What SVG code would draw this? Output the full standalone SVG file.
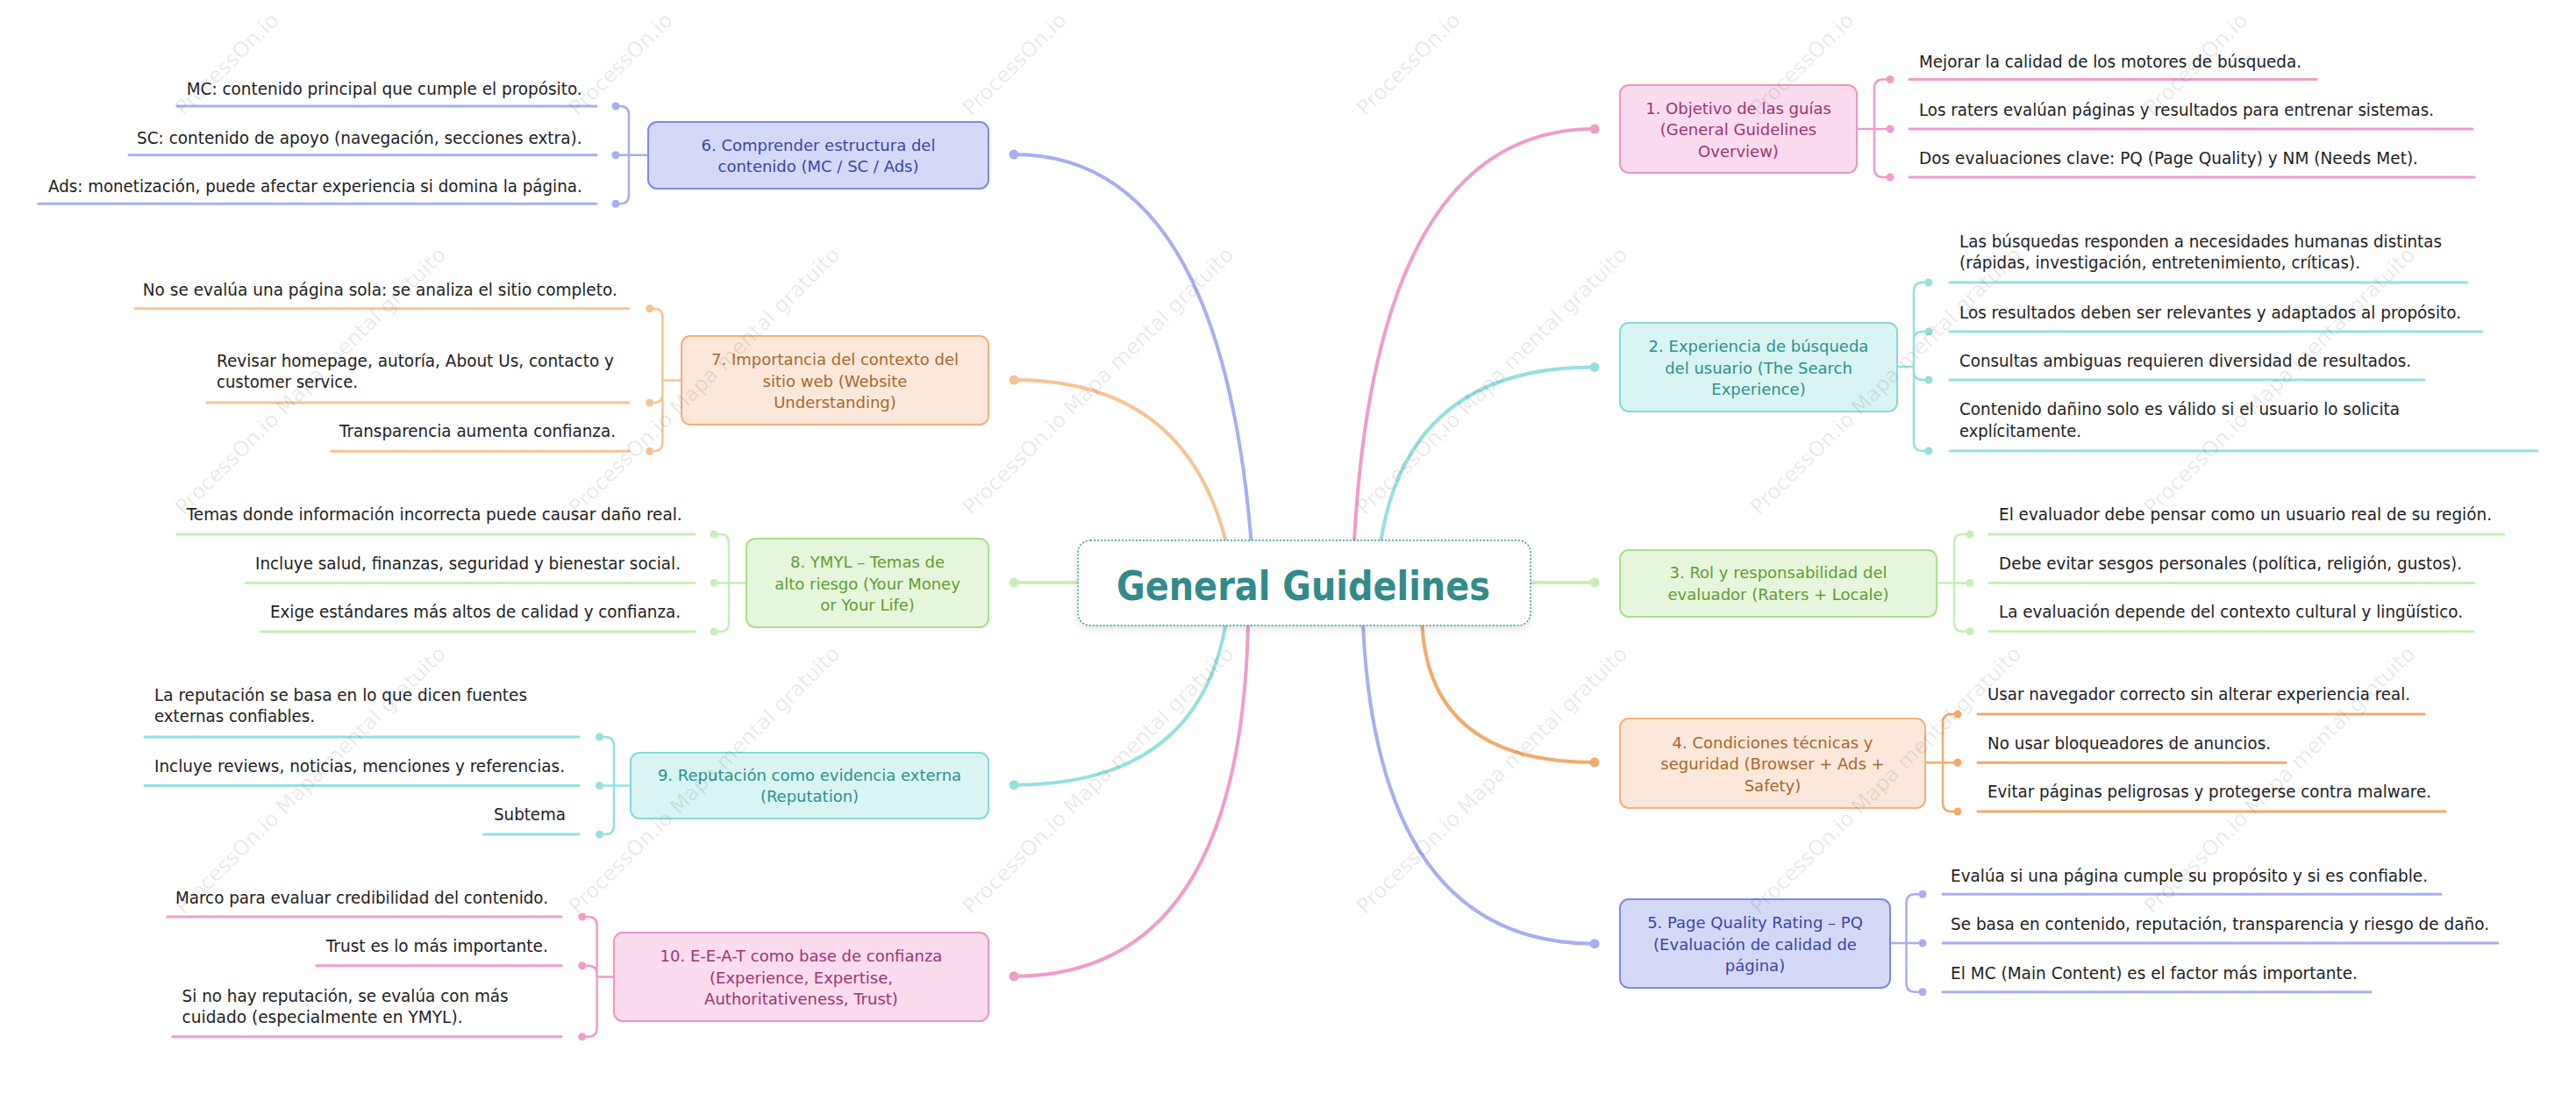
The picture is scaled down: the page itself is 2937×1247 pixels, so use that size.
<svg xmlns="http://www.w3.org/2000/svg" width="2937" height="1247" viewBox="0 0 2937 1247">
<defs>
<filter id="sh" x="-10%" y="-20%" width="120%" height="150%"><feDropShadow dx="0" dy="3" stdDeviation="4" flood-color="#000" flood-opacity="0.12"/></filter>
</defs>
<style>
text{font-family:"DejaVu Sans","Liberation Sans",sans-serif}
.wm{font-size:24px;fill:#000;fill-opacity:0.09}
.c{font-size:20px;fill:#1e1e1e}
.nt{font-size:18px;text-anchor:middle}
.curve{fill:none;stroke-width:4;stroke-linecap:round}
.br{fill:none;stroke-width:2.5;stroke-linecap:round}
.ul{fill:none;stroke-width:3;stroke-linecap:round}
.node{stroke-width:2}
.pk{stroke:#F09CCB}.pkd{fill:#F09CCB}
.cy{stroke:#95E0DF}.cyd{fill:#95E0DF}
.gr{stroke:#C8EEB5}.grd{fill:#C8EEB5}
.or{stroke:#F2AB6A}.ord{fill:#F2AB6A}
.ol{stroke:#F6C493}.old{fill:#F6C493}
.bl{stroke:#A8AEF1}.bld{fill:#A8AEF1}
.npk{fill:#FADCEE;stroke:#EE94C5}.tpk{fill:#A13370}
.ncy{fill:#DAF4F4;stroke:#85D9D8}.tcy{fill:#2E8F8E}
.ngr{fill:#E6F6DC;stroke:#A8E08C}.tgr{fill:#5E9D33}
.nor{fill:#FCE8DA;stroke:#F2B07A}.tor{fill:#A9672C}
.nbl{fill:#D5D9F8;stroke:#7E88E8}.tbl{fill:#3A46A6}
</style>
<rect width="2937" height="1247" fill="#fff"/>

<g id="connectors">
<path class="curve pk" d="M1544,664 L1544,616 Q1570,147 1818,147"/>
<path class="curve cy" d="M1574.5,664 L1574.5,616 Q1606,418.4 1818,418.4"/>
<path class="curve gr" d="M1745,664 L1818,664"/>
<path class="curve or" d="M1621.4,664 L1621.4,712 Q1630,869 1818,869"/>
<path class="curve bl" d="M1554,664 L1554,712 Q1571,1075.7 1818,1075.7"/>
<path class="curve bl" d="M1426.5,664 L1426.5,616 Q1390,176 1156,176"/>
<path class="curve ol" d="M1397.4,664 L1397.4,616 Q1350,433 1156,433"/>
<path class="curve gr" d="M1229,664 L1156,664"/>
<path class="curve cy" d="M1397.4,664 L1397.4,712 Q1365,894.7 1156,894.7"/>
<path class="curve pk" d="M1423,664 L1423,712 Q1414,1112.8 1156,1112.8"/>
<circle class="pkd" cx="1818" cy="147" r="5.5"/>
<circle class="cyd" cx="1818" cy="418.4" r="5.5"/>
<circle class="grd" cx="1818" cy="664" r="5.5"/>
<circle class="ord" cx="1818" cy="869" r="5.5"/>
<circle class="bld" cx="1818" cy="1075.7" r="5.5"/>
<circle class="bld" cx="1156" cy="176" r="5.5"/>
<circle class="old" cx="1156" cy="433" r="5.5"/>
<circle class="grd" cx="1156" cy="664" r="5.5"/>
<circle class="cyd" cx="1156" cy="894.7" r="5.5"/>
<circle class="pkd" cx="1156" cy="1112.8" r="5.5"/>

<path class="br pk" d="M2117,147 H2155 M2137,147 V100.5 Q2137,90.5 2147,90.5 H2155 M2137,147 V192 Q2137,202 2147,202 H2155"/>
<circle class="pkd" cx="2155" cy="90.5" r="4.5"/><circle class="pkd" cx="2155" cy="147" r="4.5"/><circle class="pkd" cx="2155" cy="202" r="4.5"/>
<path class="br cy" d="M2163,418 H2182 M2182,418 V332 Q2182,322 2192,322 H2199 M2182,418 V388 Q2182,378 2192,378 H2199 M2182,418 V423 Q2182,433 2192,433 H2199 M2182,418 V504 Q2182,514 2192,514 H2199"/>
<circle class="cyd" cx="2199" cy="322" r="4.5"/><circle class="cyd" cx="2199" cy="378" r="4.5"/><circle class="cyd" cx="2199" cy="433" r="4.5"/><circle class="cyd" cx="2199" cy="514" r="4.5"/>
<path class="br gr" d="M2208,664.5 H2246 M2228,664.5 V619 Q2228,609 2238,609 H2246 M2228,664.5 V709.7 Q2228,719.7 2238,719.7 H2246"/>
<circle class="grd" cx="2246" cy="609" r="4.5"/><circle class="grd" cx="2246" cy="664.5" r="4.5"/><circle class="grd" cx="2246" cy="719.7" r="4.5"/>
<path class="br or" d="M2195,869.3 H2232 M2215,869.3 V824 Q2215,814 2225,814 H2232 M2215,869.3 V915 Q2215,925 2225,925 H2232"/>
<circle class="ord" cx="2232" cy="814" r="4.5"/><circle class="ord" cx="2232" cy="869.3" r="4.5"/><circle class="ord" cx="2232" cy="925" r="4.5"/>
<path class="br bl" d="M2155,1075 H2192 M2173.5,1075 V1029.3 Q2173.5,1019.3 2183.5,1019.3 H2192 M2173.5,1075 V1120.7 Q2173.5,1130.7 2183.5,1130.7 H2192"/>
<circle class="bld" cx="2192" cy="1019.3" r="4.5"/><circle class="bld" cx="2192" cy="1075" r="4.5"/><circle class="bld" cx="2192" cy="1130.7" r="4.5"/>

<path class="br bl" d="M739,176.7 H702 M717,176.7 V131 Q717,121 707,121 H702 M717,176.7 V222.3 Q717,232.3 707,232.3 H702"/>
<circle class="bld" cx="702" cy="121" r="4.5"/><circle class="bld" cx="702" cy="176.7" r="4.5"/><circle class="bld" cx="702" cy="232.3" r="4.5"/>
<path class="br ol" d="M777,433.5 H755.4 M755.4,433.5 V361.7 Q755.4,351.7 745.4,351.7 H740.7 M755.4,433.5 V449 Q755.4,459 745.4,459 H740.7 M755.4,433.5 V504.3 Q755.4,514.3 745.4,514.3 H740.7"/>
<circle class="old" cx="740.7" cy="351.7" r="4.5"/><circle class="old" cx="740.7" cy="459" r="4.5"/><circle class="old" cx="740.7" cy="514.3" r="4.5"/>
<path class="br gr" d="M851,664.4 H814 M831,664.4 V619 Q831,609 821,609 H814 M831,664.4 V710 Q831,720 821,720 H814"/>
<circle class="grd" cx="814" cy="609" r="4.5"/><circle class="grd" cx="814" cy="664.4" r="4.5"/><circle class="grd" cx="814" cy="720" r="4.5"/>
<path class="br cy" d="M719,895.6 H683.5 M700,895.6 V850 Q700,840 690,840 H683.5 M700,895.6 V941 Q700,951 690,951 H683.5"/>
<circle class="cyd" cx="683.5" cy="840" r="4.5"/><circle class="cyd" cx="683.5" cy="895.6" r="4.5"/><circle class="cyd" cx="683.5" cy="951" r="4.5"/>
<path class="br pk" d="M700,1113.5 H680.6 M680.6,1113.5 V1055 Q680.6,1045 670.6,1045 H663.7 M680.6,1113.5 V1110.7 Q680.6,1100.7 670.6,1100.7 H663.7 M680.6,1113.5 V1171.7 Q680.6,1181.7 670.6,1181.7 H663.7"/>
<circle class="pkd" cx="663.7" cy="1045" r="4.5"/><circle class="pkd" cx="663.7" cy="1100.7" r="4.5"/><circle class="pkd" cx="663.7" cy="1181.7" r="4.5"/>
</g>

<g id="root">
<rect x="1229" y="616" width="516" height="97" rx="14" fill="#fff" stroke="#3A9A9A" stroke-width="1.5" stroke-dasharray="2 2" filter="url(#sh)"/>
<text x="1486" y="684" text-anchor="middle" font-size="46" font-weight="bold" fill="#338A8A" textLength="426" lengthAdjust="spacingAndGlyphs">General Guidelines</text>
</g>

<g id="n1">
<rect class="node npk" x="1847" y="97" width="270" height="100" rx="10"/>
<text class="nt tpk" x="1982" y="129.5">1. Objetivo de las guías</text>
<text class="nt tpk" x="1982" y="154">(General Guidelines</text>
<text class="nt tpk" x="1982" y="178.5">Overview)</text>
</g>
<g id="n1-1"><path class="ul pk" d="M2177,90.5 H2641"/><text class="c" x="2188" y="76.7" textLength="436" lengthAdjust="spacingAndGlyphs">Mejorar la calidad de los motores de búsqueda.</text></g>
<g id="n1-2"><path class="ul pk" d="M2177,147 H2819"/><text class="c" x="2188" y="131.7" textLength="587" lengthAdjust="spacingAndGlyphs">Los raters evalúan páginas y resultados para entrenar sistemas.</text></g>
<g id="n1-3"><path class="ul pk" d="M2177,202 H2821"/><text class="c" x="2188" y="186.7" textLength="569" lengthAdjust="spacingAndGlyphs">Dos evaluaciones clave: PQ (Page Quality) y NM (Needs Met).</text></g>

<g id="n2">
<rect class="node ncy" x="1847" y="368" width="316" height="101" rx="10"/>
<text class="nt tcy" x="2005" y="401">2. Experiencia de búsqueda</text>
<text class="nt tcy" x="2005" y="425.5">del usuario (The Search</text>
<text class="nt tcy" x="2005" y="450">Experience)</text>
</g>
<g id="n2-1"><path class="ul cy" d="M2223,322 H2813"/><text class="c" x="2234" y="281.7" textLength="550" lengthAdjust="spacingAndGlyphs">Las búsquedas responden a necesidades humanas distintas</text><text class="c" x="2234" y="306" textLength="457" lengthAdjust="spacingAndGlyphs">(rápidas, investigación, entretenimiento, críticas).</text></g>
<g id="n2-2"><path class="ul cy" d="M2223,378 H2830"/><text class="c" x="2234" y="362.7" textLength="572" lengthAdjust="spacingAndGlyphs">Los resultados deben ser relevantes y adaptados al propósito.</text></g>
<g id="n2-3"><path class="ul cy" d="M2223,433 H2764"/><text class="c" x="2234" y="418.3" textLength="515" lengthAdjust="spacingAndGlyphs">Consultas ambiguas requieren diversidad de resultados.</text></g>
<g id="n2-4"><path class="ul cy" d="M2223,514 H2893"/><text class="c" x="2234" y="473" textLength="502" lengthAdjust="spacingAndGlyphs">Contenido dañino solo es válido si el usuario lo solicita</text><text class="c" x="2234" y="497.7" textLength="139" lengthAdjust="spacingAndGlyphs">explícitamente.</text></g>

<g id="n3">
<rect class="node ngr" x="1847" y="627" width="361" height="76" rx="10"/>
<text class="nt tgr" x="2027.5" y="659.3">3. Rol y responsabilidad del</text>
<text class="nt tgr" x="2027.5" y="684">evaluador (Raters + Locale)</text>
</g>
<g id="n3-1"><path class="ul gr" d="M2268,609 H2855"/><text class="c" x="2279" y="593.3" textLength="562" lengthAdjust="spacingAndGlyphs">El evaluador debe pensar como un usuario real de su región.</text></g>
<g id="n3-2"><path class="ul gr" d="M2268,664.5 H2821"/><text class="c" x="2279" y="649.3" textLength="528" lengthAdjust="spacingAndGlyphs">Debe evitar sesgos personales (política, religión, gustos).</text></g>
<g id="n3-3"><path class="ul gr" d="M2268,719.7 H2820"/><text class="c" x="2279" y="704" textLength="529" lengthAdjust="spacingAndGlyphs">La evaluación depende del contexto cultural y lingüístico.</text></g>

<g id="n4">
<rect class="node nor" x="1847" y="819" width="348" height="102" rx="10"/>
<text class="nt tor" x="2021" y="852.7">4. Condiciones técnicas y</text>
<text class="nt tor" x="2021" y="877.3">seguridad (Browser + Ads +</text>
<text class="nt tor" x="2021" y="901.7">Safety)</text>
</g>
<g id="n4-1"><path class="ul or" d="M2255,814 H2764"/><text class="c" x="2266" y="798.3" textLength="482" lengthAdjust="spacingAndGlyphs">Usar navegador correcto sin alterar experiencia real.</text></g>
<g id="n4-2"><path class="ul or" d="M2255,869.3 H2606"/><text class="c" x="2266" y="854.3" textLength="323" lengthAdjust="spacingAndGlyphs">No usar bloqueadores de anuncios.</text></g>
<g id="n4-3"><path class="ul or" d="M2255,925 H2788"/><text class="c" x="2266" y="909.3" textLength="506" lengthAdjust="spacingAndGlyphs">Evitar páginas peligrosas y protegerse contra malware.</text></g>

<g id="n5">
<rect class="node nbl" x="1847" y="1025" width="308" height="101" rx="10"/>
<text class="nt tbl" x="2001" y="1057.7">5. Page Quality Rating – PQ</text>
<text class="nt tbl" x="2001" y="1082.7">(Evaluación de calidad de</text>
<text class="nt tbl" x="2001" y="1106.7">página)</text>
</g>
<g id="n5-1"><path class="ul bl" d="M2215,1019.3 H2783"/><text class="c" x="2224" y="1005" textLength="544" lengthAdjust="spacingAndGlyphs">Evalúa si una página cumple su propósito y si es confiable.</text></g>
<g id="n5-2"><path class="ul bl" d="M2215,1075 H2848"/><text class="c" x="2224" y="1060" textLength="614" lengthAdjust="spacingAndGlyphs">Se basa en contenido, reputación, transparencia y riesgo de daño.</text></g>
<g id="n5-3"><path class="ul bl" d="M2215,1130.7 H2703"/><text class="c" x="2224" y="1116" textLength="464" lengthAdjust="spacingAndGlyphs">El MC (Main Content) es el factor más importante.</text></g>

<g id="n6">
<rect class="node nbl" x="739" y="139" width="388" height="76" rx="10"/>
<text class="nt tbl" x="933" y="171.7">6. Comprender estructura del</text>
<text class="nt tbl" x="933" y="196">contenido (MC / SC / Ads)</text>
</g>
<g id="n6-1"><path class="ul bl" d="M202,121 H680"/><text class="c" x="212.7" y="107.7" textLength="451" lengthAdjust="spacingAndGlyphs">MC: contenido principal que cumple el propósito.</text></g>
<g id="n6-2"><path class="ul bl" d="M147,176.7 H680"/><text class="c" x="156" y="164" textLength="507.5" lengthAdjust="spacingAndGlyphs">SC: contenido de apoyo (navegación, secciones extra).</text></g>
<g id="n6-3"><path class="ul bl" d="M44,232.3 H680"/><text class="c" x="55" y="219.3" textLength="608.7" lengthAdjust="spacingAndGlyphs">Ads: monetización, puede afectar experiencia si domina la página.</text></g>

<g id="n7">
<rect class="node nor" x="777" y="383" width="350" height="101" rx="10"/>
<text class="nt tor" x="952" y="416">7. Importancia del contexto del</text>
<text class="nt tor" x="952" y="440.7">sitio web (Website</text>
<text class="nt tor" x="952" y="465">Understanding)</text>
</g>
<g id="n7-1"><path class="ul ol" d="M154,351.7 H717"/><text class="c" x="162.8" y="336.7" textLength="541" lengthAdjust="spacingAndGlyphs">No se evalúa una página sola: se analiza el sitio completo.</text></g>
<g id="n7-2"><path class="ul ol" d="M236,459 H717"/><text class="c" x="247" y="418.3" textLength="453" lengthAdjust="spacingAndGlyphs">Revisar homepage, autoría, About Us, contacto y</text><text class="c" x="247" y="441.7" textLength="161" lengthAdjust="spacingAndGlyphs">customer service.</text></g>
<g id="n7-3"><path class="ul ol" d="M377.7,514.3 H717"/><text class="c" x="387" y="498.3" textLength="315" lengthAdjust="spacingAndGlyphs">Transparencia aumenta confianza.</text></g>

<g id="n8">
<rect class="node ngr" x="851" y="614" width="276" height="101" rx="10"/>
<text class="nt tgr" x="989" y="646.7">8. YMYL – Temas de</text>
<text class="nt tgr" x="989" y="671.7">alto riesgo (Your Money</text>
<text class="nt tgr" x="989" y="696">or Your Life)</text>
</g>
<g id="n8-1"><path class="ul gr" d="M201.7,609 H792"/><text class="c" x="212.7" y="592.7" textLength="565" lengthAdjust="spacingAndGlyphs">Temas donde información incorrecta puede causar daño real.</text></g>
<g id="n8-2"><path class="ul gr" d="M280,664.4 H792"/><text class="c" x="291" y="649.3" textLength="485" lengthAdjust="spacingAndGlyphs">Incluye salud, finanzas, seguridad y bienestar social.</text></g>
<g id="n8-3"><path class="ul gr" d="M297,720 H792"/><text class="c" x="308" y="704" textLength="468" lengthAdjust="spacingAndGlyphs">Exige estándares más altos de calidad y confianza.</text></g>

<g id="n9">
<rect class="node ncy" x="719" y="858" width="408" height="75" rx="10"/>
<text class="nt tcy" x="923" y="890">9. Reputación como evidencia externa</text>
<text class="nt tcy" x="923" y="914.3">(Reputation)</text>
</g>
<g id="n9-1"><path class="ul cy" d="M165,840 H660"/><text class="c" x="176" y="799.3" textLength="425" lengthAdjust="spacingAndGlyphs">La reputación se basa en lo que dicen fuentes</text><text class="c" x="176" y="823.3" textLength="183" lengthAdjust="spacingAndGlyphs">externas confiables.</text></g>
<g id="n9-2"><path class="ul cy" d="M165,895.6 H660"/><text class="c" x="176" y="880" textLength="468" lengthAdjust="spacingAndGlyphs">Incluye reviews, noticias, menciones y referencias.</text></g>
<g id="n9-3"><path class="ul cy" d="M551.5,951 H660"/><text class="c" x="563" y="935" textLength="82" lengthAdjust="spacingAndGlyphs">Subtema</text></g>

<g id="n10">
<rect class="node npk" x="700" y="1063" width="427" height="101" rx="10"/>
<text class="nt tpk" x="913.5" y="1096">10. E-E-A-T como base de confianza</text>
<text class="nt tpk" x="913.5" y="1120.7">(Experience, Expertise,</text>
<text class="nt tpk" x="913.5" y="1145">Authoritativeness, Trust)</text>
</g>
<g id="n10-1"><path class="ul pk" d="M190.7,1045 H640"/><text class="c" x="200" y="1030" textLength="425" lengthAdjust="spacingAndGlyphs">Marco para evaluar credibilidad del contenido.</text></g>
<g id="n10-2"><path class="ul pk" d="M360.8,1100.7 H640"/><text class="c" x="371.8" y="1085" textLength="253" lengthAdjust="spacingAndGlyphs">Trust es lo más importante.</text></g>
<g id="n10-3"><path class="ul pk" d="M196.6,1181.7 H640"/><text class="c" x="207.6" y="1141.5" textLength="372" lengthAdjust="spacingAndGlyphs">Si no hay reputación, se evalúa con más</text><text class="c" x="207.6" y="1166" textLength="320" lengthAdjust="spacingAndGlyphs">cuidado (especialmente en YMYL).</text></g>

<g id="watermark">
<text class="wm" transform="translate(209.6,133) rotate(-44.6)">ProcessOn.io</text>
<text class="wm" transform="translate(658.6,133) rotate(-44.6)">ProcessOn.io</text>
<text class="wm" transform="translate(1107.6,133) rotate(-44.6)">ProcessOn.io</text>
<text class="wm" transform="translate(1556.6,133) rotate(-44.6)">ProcessOn.io</text>
<text class="wm" transform="translate(2005.6,133) rotate(-44.6)">ProcessOn.io</text>
<text class="wm" transform="translate(2454.6,133) rotate(-44.6)">ProcessOn.io</text>
<text class="wm" transform="translate(209.6,588) rotate(-44.6)">ProcessOn.io Mapa mental gratuito</text>
<text class="wm" transform="translate(658.6,588) rotate(-44.6)">ProcessOn.io Mapa mental gratuito</text>
<text class="wm" transform="translate(1107.6,588) rotate(-44.6)">ProcessOn.io Mapa mental gratuito</text>
<text class="wm" transform="translate(1556.6,588) rotate(-44.6)">ProcessOn.io Mapa mental gratuito</text>
<text class="wm" transform="translate(2005.6,588) rotate(-44.6)">ProcessOn.io Mapa mental gratuito</text>
<text class="wm" transform="translate(2454.6,588) rotate(-44.6)">ProcessOn.io Mapa mental gratuito</text>
<text class="wm" transform="translate(209.6,1043) rotate(-44.6)">ProcessOn.io Mapa mental gratuito</text>
<text class="wm" transform="translate(658.6,1043) rotate(-44.6)">ProcessOn.io Mapa mental gratuito</text>
<text class="wm" transform="translate(1107.6,1043) rotate(-44.6)">ProcessOn.io Mapa mental gratuito</text>
<text class="wm" transform="translate(1556.6,1043) rotate(-44.6)">ProcessOn.io Mapa mental gratuito</text>
<text class="wm" transform="translate(2005.6,1043) rotate(-44.6)">ProcessOn.io Mapa mental gratuito</text>
<text class="wm" transform="translate(2454.6,1043) rotate(-44.6)">ProcessOn.io Mapa mental gratuito</text>
</g>
</svg>
